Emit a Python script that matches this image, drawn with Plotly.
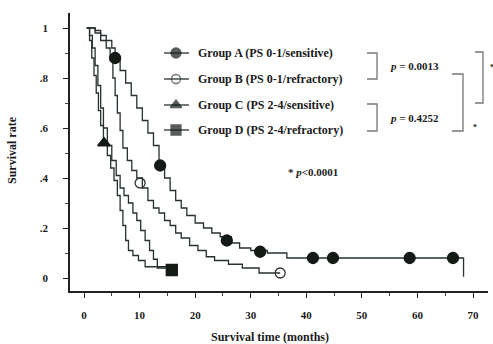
import plotly.graph_objects as go

# ---- data ----
A_t = [0.5, 2, 3, 4, 5, 5.6, 6.5, 7.5, 8.5, 9.5, 10.5, 11.5, 12.5, 13.5, 14.5, 15.5, 16.5, 17.5, 18.5, 20, 21.5, 23, 24.5, 26.5, 28, 30, 33, 36.5, 68.3, 68.3]
A_s = [1, 0.99, 0.97, 0.95, 0.92, 0.88, 0.83, 0.78, 0.73, 0.68, 0.63, 0.58, 0.53, 0.46, 0.40, 0.35, 0.31, 0.28, 0.25, 0.22, 0.20, 0.18, 0.165, 0.14, 0.12, 0.11, 0.10, 0.08, 0.08, 0.005]
B_t = [0.5, 2, 3, 4, 4.7, 5.2, 5.6, 6, 6.5, 7, 7.8, 8.6, 9.5, 10.5, 11.5, 12.5, 13.5, 14.5, 15.5, 16.5, 17.5, 19, 20.5, 22, 23.5, 26, 28.5, 31.5, 35.3]
B_s = [1, 0.98, 0.95, 0.92, 0.87, 0.80, 0.73, 0.66, 0.59, 0.52, 0.47, 0.43, 0.40, 0.36, 0.31, 0.28, 0.26, 0.23, 0.21, 0.18, 0.16, 0.13, 0.11, 0.085, 0.07, 0.055, 0.04, 0.02, 0.02]
C_t = [0.5, 1, 1.4, 1.8, 2.2, 2.6, 3, 3.5, 4.2, 4.8, 5.4, 6, 6.5, 7, 7.5, 8, 8.8, 9.8, 11, 15]
C_s = [1, 0.95, 0.88, 0.81, 0.74, 0.67, 0.61, 0.54, 0.49, 0.44, 0.39, 0.33, 0.27, 0.21, 0.15, 0.11, 0.09, 0.07, 0.045, 0.045]
D_t = [0.5, 1, 1.5, 2, 2.5, 3, 3.5, 4.2, 5, 5.8, 6.5, 7.2, 8, 8.8, 9.5, 10.2, 11, 11.8, 12.5, 13.2, 16.8]
D_s = [1, 0.97, 0.92, 0.85, 0.77, 0.68, 0.60, 0.53, 0.47, 0.41, 0.36, 0.33, 0.30, 0.26, 0.23, 0.19, 0.15, 0.11, 0.075, 0.04, 0.04]

A_mk_t = [5.6, 13.7, 25.7, 31.7, 41.2, 44.8, 58.6, 66.4]
A_mk_s = [0.88, 0.45, 0.15, 0.105, 0.08, 0.08, 0.08, 0.08]
B_mk_t = [10.1, 35.3]
B_mk_s = [0.38, 0.02]
C_mk_t = [3.6]
C_mk_s = [0.54]
D_mk_t = [15.8]
D_mk_s = [0.032]

group_names = ["Group A (PS 0-1/sensitive)", "Group B (PS 0-1/refractory)",
               "Group C (PS 2-4/sensitive)", "Group D (PS 2-4/refractory)"]
x_ticks = [0, 10, 20, 30, 40, 50, 60, 70]
y_ticks = [0, 0.2, 0.4, 0.6, 0.8, 1]
y_ticklabels = ["0", ".2", ".4", ".6", ".8", "1"]
p_texts = ["<i>p</i> = 0.0013", "<i>p</i> = 0.4252", "* <i>p</i>&lt;0.0001"]
x_title = "Survival time (months)"
y_title = "Survival rate"

LINE = "#26322c"
MK = "#141a16"
FONT = "Liberation Serif"
TXT = "#1a1a1a"

fig = go.Figure()
series = [(A_t, A_s), (B_t, B_s), (C_t, C_s), (D_t, D_s)]
for t, s in series:
    fig.add_trace(go.Scatter(x=t, y=s, mode="lines", line=dict(color=LINE, width=1.3, shape="hv"),
                             showlegend=False, hoverinfo="skip"))

symbols = ["circle", "circle-open", "triangle-up", "square"]
mks = [(A_mk_t, A_mk_s), (B_mk_t, B_mk_s), (C_mk_t, C_mk_s), (D_mk_t, D_mk_s)]
sizes = [11, 10, 11, 11]
for (t, s), sym, sz in zip(mks, symbols, sizes):
    fig.add_trace(go.Scatter(x=t, y=s, mode="markers",
                             marker=dict(symbol=sym, size=sz, color=MK if sym != "circle-open" else "#333",
                                         line=dict(width=1.3, color=MK)),
                             showlegend=False, hoverinfo="skip"))

# ---- custom legend on a pixel-like overlay axis ----
leg_y = [53, 79, 105, 130]
for i, (name, sym, sz) in enumerate(zip(group_names, symbols, sizes)):
    fig.add_trace(go.Scatter(x=[164, 176, 189], y=[leg_y[i]] * 3, mode="lines+markers",
                             xaxis="x2", yaxis="y2",
                             line=dict(color=LINE, width=1.3),
                             marker=dict(symbol=sym, size=[0, sz - 1, 0], color=MK if sym != "circle-open" else "#333",
                                         line=dict(width=1.3, color=MK)),
                             showlegend=False, hoverinfo="skip"))
    fig.add_annotation(x=196, y=leg_y[i], xref="x2", yref="y2", text="<b>" + name + "</b>",
                       showarrow=False, xanchor="left", yanchor="middle",
                       font=dict(family=FONT, size=12, color=TXT))

# brackets
br = dict(color="#777", width=1.3)
def bracket(x0, x1, y0, y1):
    fig.add_shape(type="path", path=f"M {x0} {y0} L {x1} {y0} L {x1} {y1} L {x0} {y1}",
                  xref="x2", yref="y2", line=br)

bracket(367, 377, 53, 79)
bracket(367, 377, 104, 131)
bracket(452, 463, 74, 131)
bracket(475, 483, 52, 103)

fig.add_annotation(x=388, y=66, xref="x2", yref="y2", text="<b>" + p_texts[0] + "</b>", showarrow=False,
                   xanchor="left", yanchor="middle", font=dict(family=FONT, size=11, color=TXT))
fig.add_annotation(x=388, y=118, xref="x2", yref="y2", text="<b>" + p_texts[1] + "</b>", showarrow=False,
                   xanchor="left", yanchor="middle", font=dict(family=FONT, size=11, color=TXT))
fig.add_annotation(x=286, y=172, xref="x2", yref="y2", text="<b>" + p_texts[2] + "</b>", showarrow=False,
                   xanchor="left", yanchor="middle", font=dict(family=FONT, size=11, color=TXT))
fig.add_annotation(x=475, y=127, xref="x2", yref="y2", text="<b>*</b>", showarrow=False,
                   xanchor="center", yanchor="middle", font=dict(family=FONT, size=8, color=TXT))
fig.add_annotation(x=(492 - 70) / 418, y=(291 - 67) / 278, xref="paper", yref="paper", text="<b>*</b>",
                   showarrow=False, xanchor="center", yanchor="middle", font=dict(family=FONT, size=8, color=TXT))

# axis titles
fig.add_annotation(x=(270 - 70) / 418, y=(291 - 337) / 278, xref="paper", yref="paper", text="<b>" + x_title + "</b>",
                   showarrow=False, xanchor="center", yanchor="middle", font=dict(family=FONT, size=12, color=TXT))
fig.add_annotation(x=(12 - 70) / 418, y=(291 - 150) / 278, xref="paper", yref="paper", text="<b>" + y_title + "</b>",
                   showarrow=False, textangle=-90, xanchor="center", yanchor="middle",
                   font=dict(family=FONT, size=12, color=TXT))

fig.update_layout(
    width=493, height=344,
    margin=dict(l=70, r=5, t=13, b=53),
    paper_bgcolor="white", plot_bgcolor="white",
    hovermode=False,
    xaxis=dict(range=[-2.52, 72.7], tickvals=x_ticks, showgrid=False, zeroline=False,
               showline=True, linecolor="#222", linewidth=1.6, ticks="outside", ticklen=5, tickwidth=1.2,
               tickcolor="#222", minor=dict(dtick=5, ticks="outside", ticklen=3, tickcolor="#444", showgrid=False),
               ticklabelstandoff=8,
               tickfont=dict(family=FONT, size=11, color=TXT, weight="bold")),
    yaxis=dict(range=[-0.052, 1.06], tickvals=y_ticks, ticktext=y_ticklabels, showgrid=False, zeroline=False,
               showline=True, linecolor="#222", linewidth=1.6, ticks="outside", ticklen=5, tickwidth=1.2,
               tickcolor="#222", minor=dict(dtick=0.1, ticks="outside", ticklen=3, tickcolor="#444", showgrid=False),
               ticklabelstandoff=13,
               tickfont=dict(family=FONT, size=11, color=TXT, weight="bold")),
    xaxis2=dict(range=[70, 488], overlaying="x", visible=False, fixedrange=True),
    yaxis2=dict(range=[291, 13], overlaying="y", visible=False, fixedrange=True),
)

fig.write_html("out.html", config={"displayModeBar": False},
               post_script="document.body.style.margin='0px';")
